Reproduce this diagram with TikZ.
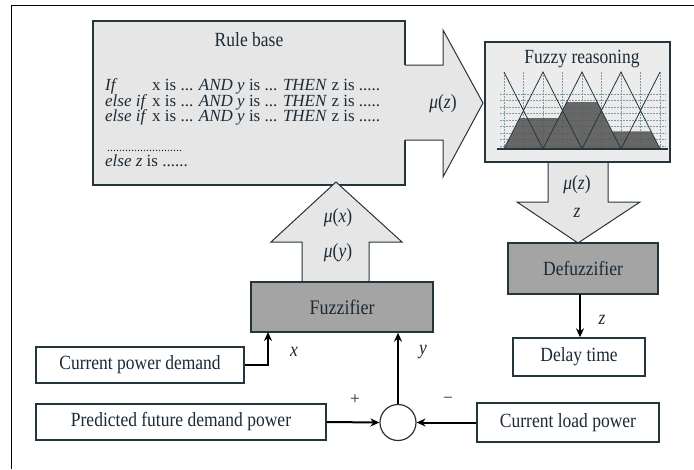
\documentclass[tikz,border=0pt]{standalone}
\usepackage{fontspec}
\usepackage{graphicx}
\setmainfont{Liberation Serif}
\usetikzlibrary{arrows.meta}
\newcommand{\vs}[1]{\scalebox{1}[1.15]{#1}}
\definecolor{bord}{HTML}{26353B}
\definecolor{txt}{HTML}{1C2A36}
\definecolor{lightfill}{HTML}{E6E6E6}
\definecolor{boxfill}{HTML}{ECECEC}
\definecolor{darkfill}{HTML}{A4A4A4}
\definecolor{chartfill}{HTML}{595959}
\definecolor{gridc}{HTML}{7E9CA4}
\tikzset{
  lbl/.style={text=txt, font=\fontsize{17.5}{15}\selectfont, inner sep=0pt},
  rl/.style={text=txt, font=\fontsize{17}{15}\selectfont, inner sep=0pt, anchor=base west},
  whitebox/.style={draw=bord, line width=1.4pt, fill=white, text=txt, font=\fontsize{17.5}{15}\selectfont, inner sep=0pt},
  graybox/.style={draw=bord, line width=1.4pt, fill=darkfill, text=txt, font=\fontsize{17.5}{15}\selectfont, inner sep=0pt},
  bigarrow/.style={draw=bord, line width=1pt, fill=lightfill},
  arr/.style={draw=black, line width=2pt, -{Stealth[length=9pt,width=8pt]}},
  gridl/.style={draw=gridc, line width=0.5pt, dash pattern=on 1.5pt off 1.5pt},
  trl/.style={draw=bord, line width=0.8pt}
}
\begin{document}
\begin{tikzpicture}[x=1pt,y=-1pt]
\useasboundingbox (0,0) rectangle (694,469);
% outer frame
\draw[line width=1pt] (11,469) -- (11,5) -- (694,5);

% Rule base
\node[draw=bord, line width=1.6pt, fill=lightfill, minimum width=312pt, minimum height=164pt, inner sep=0pt] (rb) at (249,103) {};
\node[lbl, anchor=base] (rbt) at (249,46.7) {\vs{Rule base}};
\node[rl] (r1a) at (105,90.5) {\textit{If}};
\node[rl] (r1b) at (152,90.5) {x is ... \textit{AND y} is ... \textit{THEN} z is .....};
\node[rl] (r2a) at (105,106) {\textit{else if}};
\node[rl] (r2b) at (152,106) {x is ... \textit{AND y} is ... \textit{THEN} z is .....};
\node[rl] (r3a) at (105,121.5) {\textit{else if}};
\node[rl] (r3b) at (152,121.5) {x is ... \textit{AND y} is ... \textit{THEN} z is .....};
\node[rl, font=\fontsize{12}{12}\selectfont] (r4) at (107,151.7) {.........................};
\node[rl] (r5) at (105,166.7) {\textit{else z} is ......};

% big right arrow
\fill[lightfill] (404,65) -- (443,65) -- (443,30) -- (483,103) -- (443,177) -- (443,140) -- (404,140) -- cycle;
\draw[bigarrow, fill=none] (405,65) -- (443,65) -- (443,30) -- (483,103) -- (443,177) -- (443,140) -- (405,140);
\node[lbl] (muz1) at (443,104) {\vs{\textit{μ}(\textit{z})}};

% Fuzzy reasoning box
\node[draw=bord, line width=1.6pt, fill=boxfill, minimum width=185pt, minimum height=120pt, inner sep=0pt] (fr) at (577.5,102) {};
\node[lbl, anchor=base] (frt) at (582,63.3) {\vs{Fuzzy reasoning}};
% grid
\foreach \gx in {504,523.5,...,660} \draw[gridl] (\gx,72) -- (\gx,149);
\foreach \gy in {94,100.5,...,147} \draw[gridl] (500,\gy) -- (666,\gy);
% fill
\fill[chartfill, opacity=0.9] (504,149) -- (519.6,118.2) -- (558.6,118.2) -- (566.8,102) -- (597.2,102) -- (612,131.3) -- (651,131.3) -- (660,149) -- cycle;
% triangles
\draw[trl] (504,72) -- (543,149) -- (582,72) -- (621,149) -- (660,72);
\draw[trl] (504,149) -- (543,72) -- (582,149) -- (621,72) -- (660,149);
\draw[draw=bord, line width=1.2pt] (497,149) -- (668,149);

% down arrow from fuzzy reasoning
\draw[bigarrow] (548,163) -- (548,202) -- (517,202) -- (578,243) -- (640,202) -- (608,202) -- (608,163);
\node[lbl] (muz2) at (577,185) {\vs{\textit{μ}(\textit{z})}};
\node[lbl] (zz) at (577,213) {\vs{\textit{z}}};

% Defuzzifier
\node[graybox, minimum width=150pt, minimum height=51pt] (defz) at (583,268.5) {\vs{Defuzzifier}};

% up arrow to rule base
\draw[bigarrow] (302,282) -- (302,242) -- (271,242) -- (336,182) -- (402,242) -- (369,242) -- (369,282);
\node[lbl] (mux) at (338,218) {\vs{\textit{μ}(\textit{x})}};
\node[lbl] (muy) at (338,253) {\vs{\textit{μ}(\textit{y})}};

% Fuzzifier
\node[graybox, minimum width=182pt, minimum height=50pt, font=\fontsize{18}{15}\selectfont] (fuz) at (342,307) {\vs{Fuzzifier}};

% input boxes
\node[whitebox, minimum width=208pt, minimum height=36pt] (cpd) at (140,365) {\vs{Current power demand}};
\node[whitebox, minimum width=290pt, minimum height=36pt] (pred) at (181,422) {\vs{Predicted future demand power}};
\node[whitebox, minimum width=182pt, minimum height=39pt] (clp) at (568,422.5) {\vs{Current load power}};
\node[whitebox, minimum width=132pt, minimum height=38pt] (delay) at (579,357) {\vs{Delay time}};

% summing junction
\node[draw=bord, line width=1.2pt, circle, minimum size=36pt, inner sep=0pt, fill=white] (sum) at (398,422.5) {};

% connectors
\coordinate (fx) at (268,332);
\draw[arr] (cpd.east) -| (fx);
\draw[arr] (sum.north) -- (sum.north |- fuz.south);
\draw[arr] (pred.east) -- (sum.west);
\draw[arr] (clp.west) -- (sum.east);
\coordinate (dz) at (580,294);
\draw[arr] (dz) -- (dz |- delay.north);

% labels
\node[lbl] (lx) at (294,352) {\vs{\textit{x}}};
\node[lbl] (ly) at (423,352) {\vs{\textit{y}}};
\node[lbl] (lz) at (602,320) {\vs{\textit{z}}};
\node[lbl] (lplus) at (355,400) {+};
\node[lbl] (lminus) at (448,400) {−};
\end{tikzpicture}
\end{document}
